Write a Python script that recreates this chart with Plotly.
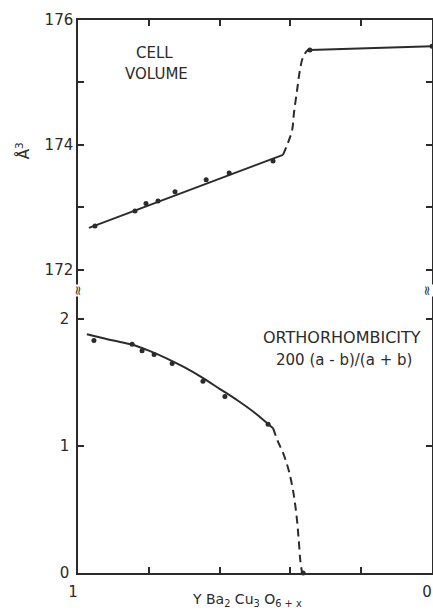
import plotly.graph_objects as go

# ---- data (x = oxygen content parameter, axis runs 1 -> 0) ----
vol_pts_x = [0.952, 0.839, 0.808, 0.774, 0.726, 0.638, 0.573, 0.449, 0.345, 0.0]
vol_pts_y = [172.70, 172.94, 173.06, 173.10, 173.25, 173.44, 173.55, 173.74, 175.52, 175.58]

vol_fit_x = [0.969, 0.421]
vol_fit_y = [172.67, 173.84]
vol_dash_x = [0.421, 0.407, 0.395, 0.390, 0.381, 0.373, 0.364, 0.350, 0.345]
vol_dash_y = [173.84, 174.03, 174.24, 174.51, 174.88, 175.20, 175.41, 175.52, 175.52]
vol_top_x = [0.345, 0.0]
vol_top_y = [175.52, 175.58]

orth_pts_x = [0.955, 0.847, 0.819, 0.785, 0.734, 0.647, 0.585, 0.463, 0.364]
orth_pts_y = [1.83, 1.80, 1.75, 1.72, 1.65, 1.51, 1.39, 1.17, 0.0]

orth_fit_x = [0.975, 0.90, 0.85, 0.80, 0.75, 0.70, 0.65, 0.60, 0.55, 0.50, 0.449]
orth_fit_y = [1.88, 1.83, 1.80, 1.75, 1.69, 1.62, 1.54, 1.45, 1.36, 1.26, 1.14]
orth_dash_x = [0.449, 0.436, 0.420, 0.404, 0.392, 0.383, 0.377, 0.372, 0.367]
orth_dash_y = [1.14, 1.04, 0.94, 0.80, 0.64, 0.46, 0.28, 0.10, 0.0]

x_ticks = [1, 0.8, 0.6, 0.4, 0.2, 0]
x_ticktext = ["1", "", "", "", "", "0"]
vol_ticks = [172, 173, 174, 175, 176]
vol_ticktext = ["172", "", "174", "", "176"]
orth_ticks = [0, 1, 2]
orth_ticktext = ["0", "1", "2"]

INK = "#2b2b2b"
FONT = "DejaVu Sans"

fig = go.Figure()
line_solid = dict(color=INK, width=2, shape="spline", smoothing=0.8)
line_dash = dict(color=INK, width=2, dash="8px,5px", shape="spline", smoothing=1.0)
mk = dict(color=INK, size=5)

fig.add_trace(go.Scatter(x=vol_fit_x, y=vol_fit_y, mode="lines", line=line_solid, xaxis="x2", yaxis="y2", cliponaxis=False))
fig.add_trace(go.Scatter(x=vol_dash_x, y=vol_dash_y, mode="lines", line=line_dash, xaxis="x2", yaxis="y2", cliponaxis=False))
fig.add_trace(go.Scatter(x=vol_top_x, y=vol_top_y, mode="lines", line=line_solid, xaxis="x2", yaxis="y2", cliponaxis=False))
fig.add_trace(go.Scatter(x=vol_pts_x, y=vol_pts_y, mode="markers", marker=mk, xaxis="x2", yaxis="y2", cliponaxis=False))

fig.add_trace(go.Scatter(x=orth_fit_x, y=orth_fit_y, mode="lines", line=line_solid, xaxis="x", yaxis="y", cliponaxis=False))
fig.add_trace(go.Scatter(x=orth_dash_x, y=orth_dash_y, mode="lines", line=line_dash, xaxis="x", yaxis="y", cliponaxis=False))
fig.add_trace(go.Scatter(x=orth_pts_x, y=orth_pts_y, mode="markers", marker=mk, xaxis="x", yaxis="y", cliponaxis=False))

SPLIT = 0.51
axis_common = dict(showline=True, linecolor=INK, linewidth=1.5, ticks="inside", ticklen=6,
                   tickcolor=INK, tickwidth=1.5, showgrid=False, zeroline=False, automargin=False,
                   tickfont=dict(family=FONT, size=15, color=INK))

fig.update_layout(
    width=433, height=611,
    margin=dict(l=78, r=1, t=20, b=38),
    paper_bgcolor="white", plot_bgcolor="white",
    showlegend=False,
    xaxis=dict(axis_common, domain=[0, 1], range=[1, 0], anchor="y",
               tickmode="array", tickvals=x_ticks, ticktext=x_ticktext,
               ticklabelshift=5, ticklabelstandoff=4, ticklabeloverflow="allow"),
    xaxis2=dict(axis_common, domain=[0, 1], range=[1, 0], anchor="y2", side="top",
                matches="x", tickmode="array", tickvals=x_ticks, showticklabels=False),
    yaxis=dict(axis_common, domain=[0, SPLIT], range=[0, 2.22], anchor="x",
               mirror="ticks", tickmode="array", tickvals=orth_ticks, ticktext=orth_ticktext,
               ticklabelstandoff=4),
    yaxis2=dict(axis_common, domain=[SPLIT, 1], range=[171.66, 176], anchor="x2",
                mirror="ticks", tickmode="array", tickvals=vol_ticks, ticktext=vol_ticktext),
)

ann_font = dict(family=FONT, size=15, color=INK)
annotations = [
    dict(text="CELL", x=0.215, y=0.940),
    dict(text="VOLUME", x=0.222, y=0.902),
    dict(text="ORTHORHOMBICITY", x=0.746, y=0.425, font=dict(family=FONT, size=16, color=INK)),
    dict(text="200 (a - b)/(a + b)", x=0.751, y=0.386),
    dict(text="Y Ba<sub>2</sub> Cu<sub>3</sub> O<sub>6 + x</sub>", x=0.477, y=-0.048,
         font=dict(family=FONT, size=14, color=INK)),
    dict(text="Å<sup>3</sup>", x=-0.155, y=0.763, textangle=-90),
]
for a in annotations:
    a.setdefault("font", ann_font)
    fig.add_annotation(xref="paper", yref="paper", showarrow=False,
                       xanchor="center", yanchor="middle", **a)

for xb, xs in ((0, 0), (1, -5)):
    fig.add_annotation(xref="paper", yref="paper", x=xb, y=SPLIT, text="≈", showarrow=False,
                       textangle=-90, font=dict(family=FONT, size=13, color=INK), xshift=xs,
                       bgcolor="white", borderpad=0, xanchor="center", yanchor="middle")

fig.write_html("out.html")
